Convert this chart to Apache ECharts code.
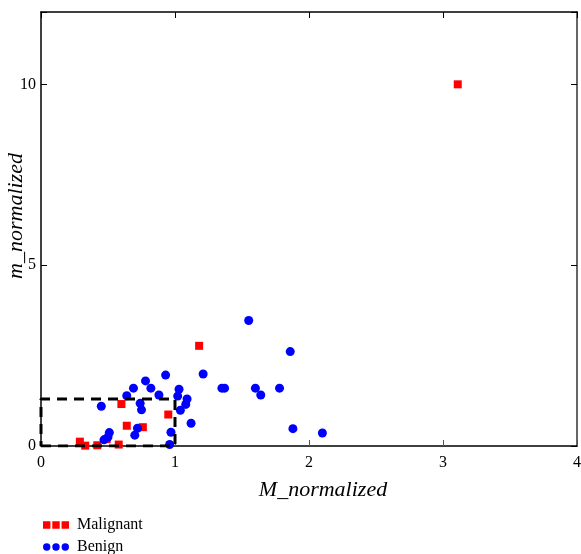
<!DOCTYPE html>
<html><head><meta charset="utf-8">
<script src="https://cdn.jsdelivr.net/npm/echarts@6/dist/echarts.min.js"></script>
<style>html,body{margin:0;padding:0;background:#fff}#c{width:581px;height:554px}</style>
</head><body><div id="c"></div>
<script>
const xTicks = [0, 1, 2, 3, 4];
const yTicks = [0, 5, 10];
const malignantX = [3.11, 1.18, 0.60, 0.95, 0.64, 0.76, 0.49, 0.29, 0.33, 0.42, 0.58];
const malignantY = [10.0, 2.77, 1.16, 0.87, 0.56, 0.52, 0.19, 0.12, 0.01, 0.02, 0.04];
const benignX = [0.45, 0.51, 0.47, 0.50, 0.64, 0.69, 0.78, 0.82, 0.74, 0.75, 0.72, 0.70, 0.88, 0.93, 0.97, 0.96, 1.03, 1.02, 1.09, 1.08, 1.04, 1.12, 1.21, 1.35, 1.37, 1.55, 1.86, 1.60, 1.64, 1.78, 1.88, 2.10];
const benignY = [1.10, 0.37, 0.17, 0.25, 1.39, 1.60, 1.80, 1.60, 1.18, 1.00, 0.49, 0.30, 1.41, 1.96, 0.38, 0.04, 1.57, 1.38, 1.30, 1.15, 0.99, 0.63, 1.99, 1.60, 1.60, 3.47, 2.61, 1.60, 1.41, 1.60, 0.48, 0.36];
const boxX = [0, 1.0];
const boxY = [0, 1.3];

const serif = 'Liberation Serif';
const mal = malignantX.map((x, i) => [x, malignantY[i]]);
const ben = benignX.map((x, i) => [x, benignY[i]]);
const box = [[boxX[0], boxY[0]], [boxX[1], boxY[0]], [boxX[1], boxY[1]], [boxX[0], boxY[1]], [boxX[0], boxY[0]]];

const sq = 'path://M0,0h8v8h-8z M10,0h8v8h-8z M20,0h8v8h-8z';
const ci = 'path://M0,4a4,4 0 1,0 8,0a4,4 0 1,0 -8,0z M10,4a4,4 0 1,0 8,0a4,4 0 1,0 -8,0z M20,4a4,4 0 1,0 8,0a4,4 0 1,0 -8,0z';

const chart = echarts.init(document.getElementById('c'));
chart.setOption({
  animation: false,
  backgroundColor: '#fff',
  grid: { left: 41, right: 4, top: 12, bottom: 108, outerBoundsMode: 'none', containLabel: false },
  legend: {
    orient: 'vertical', left: 38, top: 512, itemGap: 6, height: 60,
    itemWidth: 26, itemHeight: 8,
    textStyle: { fontFamily: serif, fontSize: 16, color: '#000', padding: [0, 0, 0, 3] },
    data: [{ name: 'Malignant', icon: sq }, { name: 'Benign', icon: ci }]
  },
  xAxis: [{
    type: 'value', min: 0, max: 4, interval: 1,
    name: 'M_normalized', nameLocation: 'middle', nameGap: 33, nameMoveOverlap: false,
    nameTextStyle: { fontFamily: serif, fontSize: 22, fontStyle: 'italic', color: '#000', padding: [0, 0, 0, 28] },
    axisLine: { show: true, onZero: false, lineStyle: { color: '#000', width: 1.5 } },
    axisTick: { show: true, inside: true, length: 6, lineStyle: { color: '#555' } },
    axisLabel: { fontFamily: serif, fontSize: 16, color: '#000', margin: 9 },
    splitLine: { show: false }
  }, {
    type: 'value', min: 0, max: 4, interval: 1, position: 'top',
    axisLine: { show: true, onZero: false, lineStyle: { color: '#000', width: 1.5 } },
    axisTick: { show: true, inside: true, length: 6, lineStyle: { color: '#000' } },
    axisLabel: { show: false }, splitLine: { show: false }
  }],
  yAxis: [{
    type: 'value', min: 0, max: 12, interval: 5,
    name: 'm_normalized', nameLocation: 'middle', nameGap: 14, nameMoveOverlap: false,
    nameTextStyle: { fontFamily: serif, fontSize: 22, fontStyle: 'italic', color: '#000', padding: [0, 0, 0, 26] },
    axisLine: { show: true, onZero: false, lineStyle: { color: '#000', width: 1.5 } },
    axisTick: { show: true, inside: true, length: 6, lineStyle: { color: '#000' } },
    axisLabel: { fontFamily: serif, fontSize: 16, color: '#000', margin: 5,
      formatter: v => yTicks.includes(v) ? String(v) : '' },
    splitLine: { show: false }
  }, {
    type: 'value', min: 0, max: 12, interval: 5, position: 'right',
    axisLine: { show: true, onZero: false, lineStyle: { color: '#666', width: 2 } },
    axisTick: { show: true, inside: true, length: 6, lineStyle: { color: '#000' } },
    axisLabel: { show: false }, splitLine: { show: false }
  }],
  series: [
    { name: 'Malignant', type: 'scatter', data: mal, symbol: 'rect', symbolSize: 8,
      itemStyle: { color: '#ff0000', opacity: 1 }, clip: false, z: 3 },
    { name: 'Benign', type: 'scatter', data: ben, symbol: 'circle', symbolSize: 9,
      itemStyle: { color: '#0000ff', opacity: 1 }, clip: false, z: 4 },
    { name: 'box', type: 'line', data: box, symbol: 'none', z: 5,
      lineStyle: { color: '#000', width: 3, type: [10, 7] } }
  ]
});
</script></body></html>
